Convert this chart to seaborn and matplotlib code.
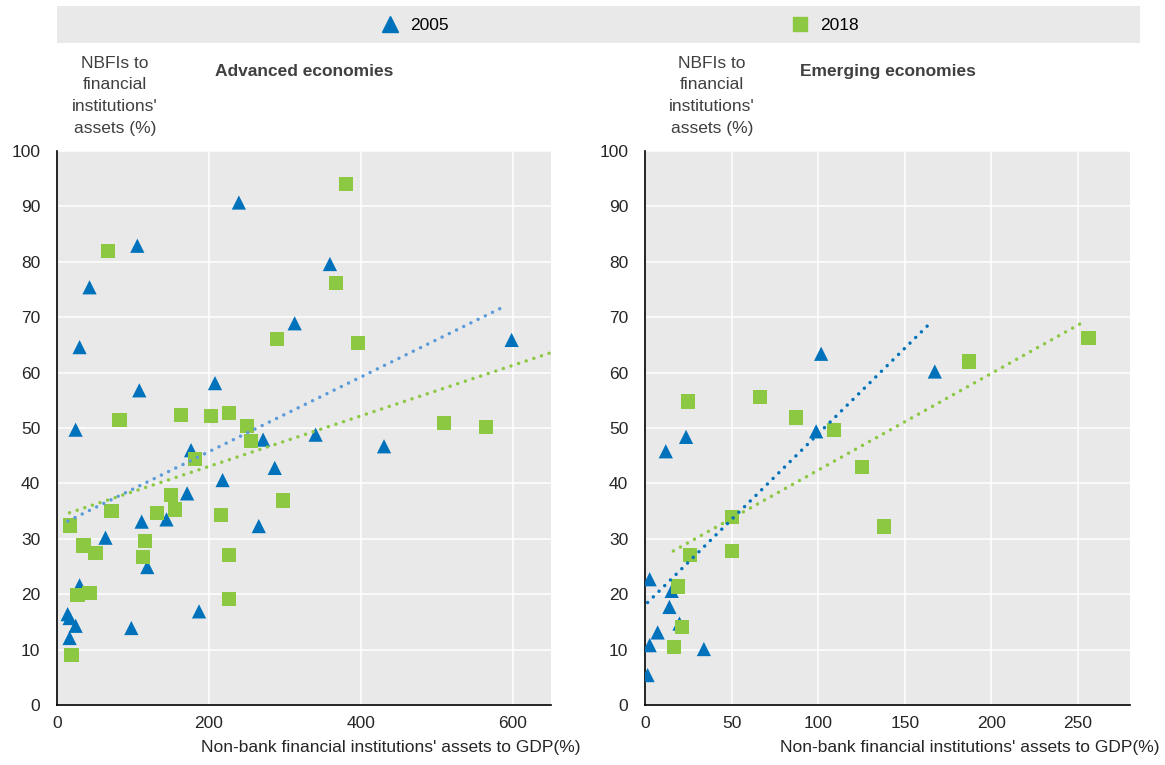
import matplotlib
matplotlib.use("Agg")
import matplotlib.pyplot as plt
from matplotlib.lines import Line2D
from matplotlib.patches import Rectangle
import pandas as pd
import seaborn as sns

# ---- Advanced economies ---------------------------------------------------
adv_2005_x = [239.3, 105.7, 42.8, 312.7, 29.7, 108.3, 207.9, 24.5, 271.2, 176.4,
              286.5, 217.9, 171.2, 144.1, 111.4, 265.5, 63.8, 118.8, 29.7, 14.0,
              16.6, 24.5, 186.9, 97.8, 16.6, 359.1, 598.2, 340.3, 430.3]
adv_2005_y = [90.7, 82.9, 75.4, 68.9, 64.6, 56.8, 58.1, 49.7, 47.9, 46.0,
              42.8, 40.6, 38.2, 33.5, 33.1, 32.3, 30.2, 24.9, 21.6, 16.4,
              15.7, 14.3, 16.9, 13.9, 12.1, 79.6, 65.9, 48.8, 46.7]

adv_2018_x = [380.2, 66.8, 367.0, 289.1, 395.6, 82.1, 163.3, 202.6, 226.2, 249.8,
              509.5, 564.5, 255.0, 181.7, 297.0, 150.2, 71.6, 131.9, 155.5, 215.7,
              16.6, 34.9, 50.7, 116.2, 113.5, 226.2, 27.1, 42.8, 226.2, 19.2]
adv_2018_y = [94.1, 81.9, 76.2, 66.1, 65.3, 51.4, 52.4, 52.1, 52.7, 50.3,
              50.9, 50.2, 47.7, 44.4, 36.9, 37.9, 35.0, 34.7, 35.3, 34.3,
              32.4, 28.8, 27.4, 29.6, 26.7, 27.1, 19.8, 20.2, 19.1, 9.0]

# Linear trends (end points)
adv_trend_2005_x = [14.2, 591.0]
adv_trend_2005_y = [33.2, 72.1]
adv_trend_2018_x = [16.5, 650.0]
adv_trend_2018_y = [34.7, 63.6]

# ---- Emerging economies ---------------------------------------------------
emg_2005_x = [101.7, 167.3, 98.8, 23.7, 12.0, 2.7, 15.4, 14.1, 19.9, 7.3,
              2.7, 34.0, 1.5]
emg_2005_y = [63.4, 60.2, 49.4, 48.4, 45.8, 22.7, 20.6, 17.7, 14.7, 13.1,
              10.8, 10.1, 5.4]

emg_2018_x = [256.0, 187.0, 66.4, 24.7, 87.3, 109.1, 125.3, 50.2, 137.8, 50.2,
              25.9, 18.9, 21.2, 16.6]
emg_2018_y = [66.3, 62.0, 55.6, 54.8, 51.9, 49.7, 43.0, 33.9, 32.2, 27.8,
              27.1, 21.4, 14.1, 10.5]

emg_trend_2005_x = [1.5, 163.9]
emg_trend_2005_y = [18.5, 68.7]
emg_trend_2018_x = [16.4, 253.5]
emg_trend_2018_y = [27.8, 69.2]

years = ["2005", "2018"]
panel_titles = ["Advanced economies", "Emerging economies"]
y_title = "NBFIs to\nfinancial\ninstitutions'\nassets (%)"
x_title = "Non-bank financial institutions' assets to GDP(%)"
y_ticks = list(range(0, 101, 10))
adv_x_ticks = [0, 200, 400, 600]
emg_x_ticks = [0, 50, 100, 150, 200, 250]

BLUE = "#0072bc"
BLUE_LIGHT = "#5b9bd9"
GREEN = "#8cc841"
BG = "#e9e9e9"
TEXT = "#262626"

sns.set_theme(style="white")
plt.rcParams["font.family"] = ["Liberation Sans", "DejaVu Sans"]
plt.rcParams["font.size"] = 12.5


def frame(xs05, ys05, xs18, ys18):
    return pd.DataFrame({
        "x": list(xs05) + list(xs18),
        "y": list(ys05) + list(ys18),
        "year": [years[0]] * len(xs05) + [years[1]] * len(xs18),
    })


adv = frame(adv_2005_x, adv_2005_y, adv_2018_x, adv_2018_y)
emg = frame(emg_2005_x, emg_2005_y, emg_2018_x, emg_2018_y)

fig = plt.figure(figsize=(11.65, 7.65), dpi=100)
ax_l = fig.add_axes([57 / 1165, 60 / 765, 494 / 1165, 554 / 765])
ax_r = fig.add_axes([645 / 1165, 60 / 765, 485 / 1165, 554 / 765])

dot = (0, (0.01, 2.3))

panels = [
    (ax_l, adv, (0, 650), adv_x_ticks,
     [(adv_trend_2005_x, adv_trend_2005_y, BLUE_LIGHT),
      (adv_trend_2018_x, adv_trend_2018_y, GREEN)],
     panel_titles[0], 0.117),
    (ax_r, emg, (0, 280), emg_x_ticks,
     [(emg_trend_2005_x, emg_trend_2005_y, BLUE),
      (emg_trend_2018_x, emg_trend_2018_y, GREEN)],
     panel_titles[1], 0.138),
]

for ax, df, xlim, xticks, trends, title, ylab_x in panels:
    ax.set_facecolor(BG)
    sns.scatterplot(data=df, x="x", y="y", hue="year", style="year",
                    palette={years[0]: BLUE, years[1]: GREEN},
                    markers={years[0]: "^", years[1]: "s"},
                    s=105, linewidth=0, legend=False, ax=ax, zorder=3)
    for tx, ty, col in trends:
        sns.lineplot(x=tx, y=ty, color=col, linestyle=dot, linewidth=2.5,
                     dash_capstyle="round", estimator=None, sort=False,
                     ax=ax, zorder=4)
    ax.set_xlim(*xlim)
    ax.set_ylim(0, 100)
    ax.set_xticks(xticks)
    ax.set_yticks(y_ticks)
    ax.grid(True, color="white", linewidth=1.1)
    ax.set_axisbelow(True)
    for side in ("top", "right"):
        ax.spines[side].set_visible(False)
    for side in ("left", "bottom"):
        ax.spines[side].set_color("black")
        ax.spines[side].set_linewidth(1.2)
    ax.tick_params(axis="both", direction="in", length=5, width=1.1,
                   color="black", labelsize=12.5, labelcolor=TEXT)
    ax.tick_params(axis="y", pad=12)
    ax.tick_params(axis="x", pad=8)
    ax.set_ylabel("")
    ax.set_xlabel(x_title, fontsize=12.5, color=TEXT, ha="right", va="top")
    ax.xaxis.set_label_coords(1.06, -0.063)
    ax.text(0.5, 1.143, title, transform=ax.transAxes, ha="center",
            va="center", fontsize=12.5, fontweight="bold", color="#404040")
    ax.text(ylab_x, 1.172, y_title, transform=ax.transAxes, ha="center",
            va="top", fontsize=12.5, color="#404040", linespacing=1.55)

# Legend band across the top
fig.patches.append(Rectangle((57 / 1165, 1 - 43 / 765), (1140 - 57) / 1165,
                             37 / 765, transform=fig.transFigure,
                             facecolor=BG, edgecolor="none", zorder=0))
handles = [
    Line2D([], [], marker="^", color=BLUE, linestyle="none", markersize=11),
    Line2D([], [], marker="s", color=GREEN, linestyle="none", markersize=10),
]
fig.legend(handles, years, loc="center", bbox_to_anchor=(620 / 1165, 1 - 25 / 765),
           ncol=2, frameon=False, fontsize=12.5, handlelength=1.0,
           handletextpad=0.7, columnspacing=19.7, borderpad=0, borderaxespad=0,
           labelcolor="black")

fig.savefig("out.png", dpi=100)
